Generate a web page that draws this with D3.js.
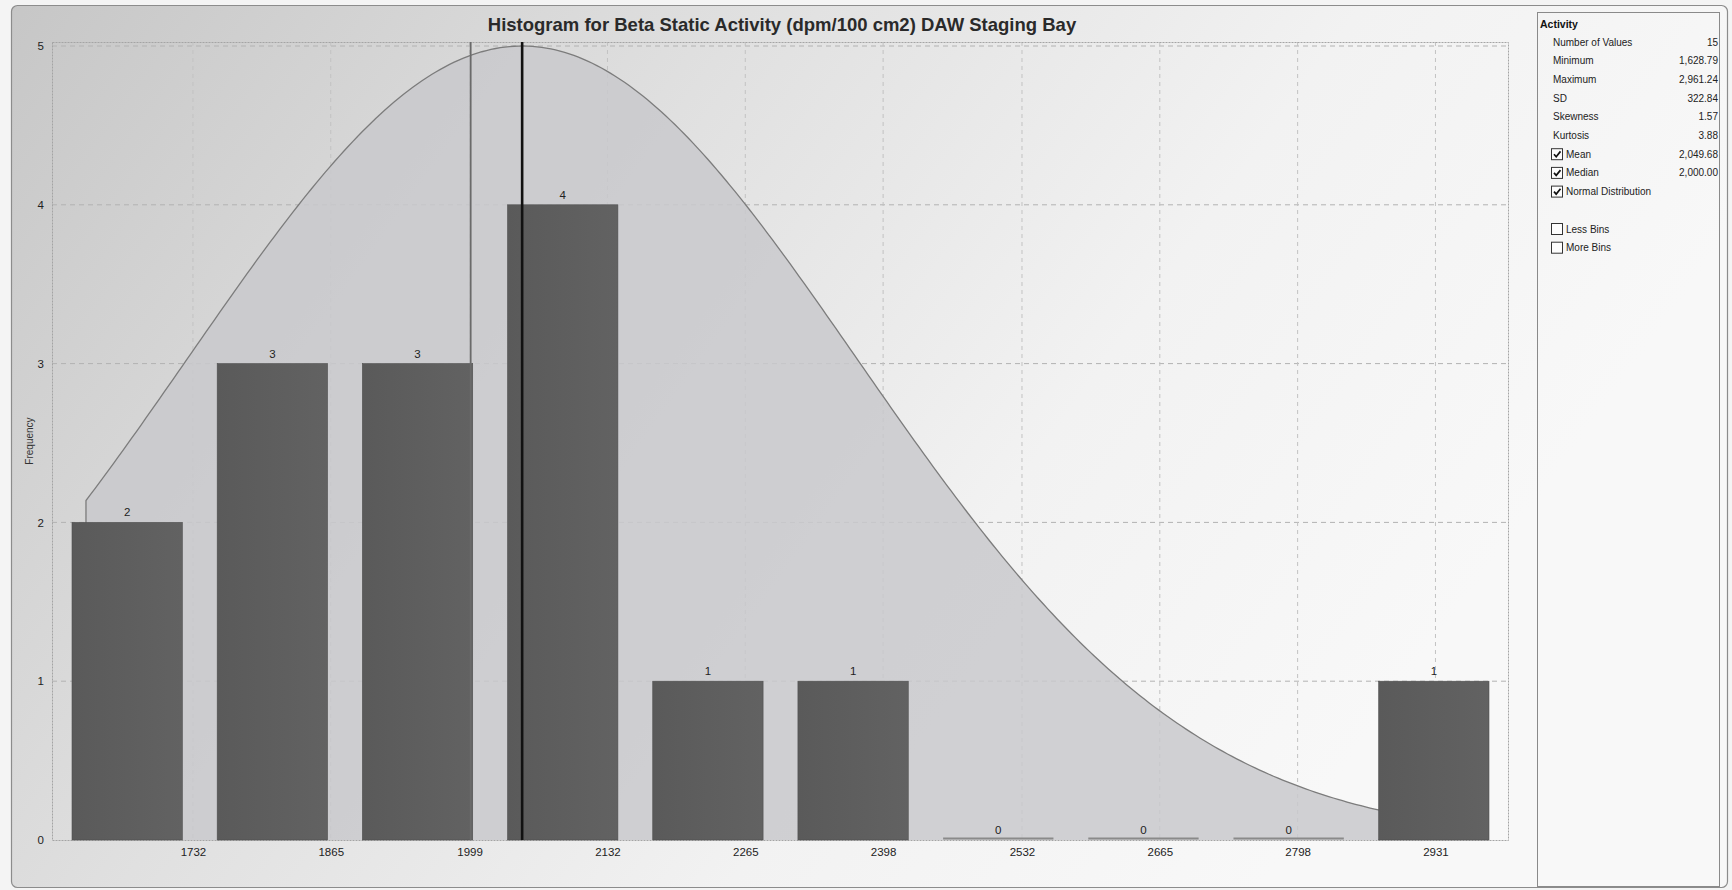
<!DOCTYPE html>
<html>
<head>
<meta charset="utf-8">
<title>Histogram for Beta Static Activity</title>
<script src="https://cdn.jsdelivr.net/npm/d3@7"></script>
<style>
  body { margin: 0; background: #ffffff; }
  svg { display: block; }
</style>
</head>
<body>
<svg id="chart" width="1732" height="890"></svg>
<script>
// ---- data ----
const binLabels = ["1732", "1865", "1999", "2132", "2265", "2398", "2532", "2665", "2798", "2931"];
const binTicks = [1732, 1865, 1999, 2132, 2265, 2398, 2532, 2665, 2798, 2931];
const binCounts = [2, 3, 3, 4, 1, 1, 0, 0, 0, 1];
const yTicks = [0, 1, 2, 3, 4, 5];

const statNames = ["Number of Values", "Minimum", "Maximum", "SD", "Skewness", "Kurtosis"];
const statValues = ["15", "1,628.79", "2,961.24", "322.84", "1.57", "3.88"];
const optionNames = ["Mean", "Median", "Normal Distribution"];
const optionValues = ["2,049.68", "2,000.00", ""];
const optionChecked = [true, true, true];
const binOptionNames = ["Less Bins", "More Bins"];

const minValue = 1628.79;
const maxValue = 2961.24;
const meanValue = 2049.68;
const medianValue = 2000.00;
const sdValue = 322.84;
const curvePeak = 5;             // height of the fitted normal curve at the mean
const valueDomain = [1596, 3001]; // numeric extent of the x axis
const yDomain = [0, 5];

// ---- layout ----
const W = 1732, H = 890;
const plot = { left: 52, right: 1508, top: 42, bottom: 840 };
const narrow = "'Liberation Sans Narrow', 'Liberation Sans', Arial, sans-serif";
const sans = "'Liberation Sans', Arial, sans-serif";

const svg = d3.select("#chart");
const defs = svg.append("defs");

const bg = defs.append("linearGradient")
  .attr("id", "bgGrad")
  .attr("gradientUnits", "userSpaceOnUse")
  .attr("x1", 0).attr("y1", 0).attr("x2", 1250).attr("y2", 900);
bg.append("stop").attr("offset", 0).attr("stop-color", "#c6c6c6");
bg.append("stop").attr("offset", 0.4).attr("stop-color", "#e0e0e0");
bg.append("stop").attr("offset", 0.72).attr("stop-color", "#f2f2f2");
bg.append("stop").attr("offset", 1).attr("stop-color", "#f8f8f8");

const barGrad = defs.append("linearGradient")
  .attr("id", "barGrad").attr("x1", 0).attr("y1", 0).attr("x2", 1).attr("y2", 0);
barGrad.append("stop").attr("offset", 0).attr("stop-color", "#5a5a5a");
barGrad.append("stop").attr("offset", 1).attr("stop-color", "#626262");

// page background and outer frame
svg.append("rect").attr("width", W).attr("height", H).attr("fill", "#f4f4f4");
svg.append("rect")
  .attr("x", 11.5).attr("y", 5.5)
  .attr("width", 1716).attr("height", 882)
  .attr("rx", 6)
  .attr("fill", "url(#bgGrad)")
  .attr("stroke", "#8c8c8c")
  .attr("stroke-width", 1.2);

// ---- scales ----
const x = d3.scaleLinear().domain(valueDomain).range([plot.left, plot.right]);
const y = d3.scaleLinear().domain(yDomain).range([plot.bottom, 46]);
const xBand = d3.scaleBand()
  .domain(d3.range(binCounts.length))
  .range([72, 1489])
  .paddingInner(0.24)
  .paddingOuter(0);

// ---- gridlines ----
const grid = svg.append("g");
grid.selectAll(".hgrid")
  .data(yTicks.filter(t => t > yDomain[0]))
  .join("line")
  .attr("x1", plot.left).attr("x2", plot.right)
  .attr("y1", d => y(d)).attr("y2", d => y(d))
  .attr("stroke", "#b2b2b2").attr("stroke-width", 1)
  .attr("stroke-dasharray", "5,4");
grid.selectAll(".vgrid")
  .data(binTicks)
  .join("line")
  .attr("x1", d => x(d)).attr("x2", d => x(d))
  .attr("y1", plot.top).attr("y2", plot.bottom)
  .attr("stroke", "#c2c2c2").attr("stroke-width", 1)
  .attr("stroke-dasharray", "4,4");

// plot frame (dotted)
svg.append("rect")
  .attr("x", plot.left + 0.5).attr("y", plot.top + 0.5)
  .attr("width", plot.right - plot.left).attr("height", plot.bottom - plot.top)
  .attr("fill", "none")
  .attr("stroke", "#a4a4a4").attr("stroke-width", 1)
  .attr("stroke-dasharray", "2,1");

// ---- fitted normal distribution ----
const curvePts = d3.range(0, 301).map(i => {
  const v = minValue + (maxValue - minValue) * i / 300;
  const z = (v - meanValue) / sdValue;
  return [v, curvePeak * Math.exp(-0.5 * z * z)];
});
svg.append("path")
  .datum(curvePts)
  .attr("fill", "#c9c9cd")
  .attr("fill-opacity", 0.85)
  .attr("d", d3.area().x(d => x(d[0])).y0(y(0)).y1(d => y(d[1])));
svg.append("path")
  .datum([[minValue, 0]].concat(curvePts))
  .attr("fill", "none")
  .attr("stroke", "#7c7c7c")
  .attr("stroke-width", 1.3)
  .attr("d", d3.line().x(d => x(d[0])).y(d => y(d[1])));

// ---- bars ----
const bars = svg.append("g");
bars.selectAll("rect")
  .data(binCounts.map((c, i) => ({ c, i })).filter(d => d.c > 0))
  .join("rect")
  .attr("x", d => xBand(d.i))
  .attr("width", xBand.bandwidth())
  .attr("y", d => y(d.c))
  .attr("height", d => y(0) - y(d.c))
  .attr("fill", "url(#barGrad)")
  .attr("stroke", "#4f4f4f")
  .attr("stroke-width", 0.6);
bars.selectAll("line")
  .data(binCounts.map((c, i) => ({ c, i })).filter(d => d.c === 0))
  .join("line")
  .attr("x1", d => xBand(d.i)).attr("x2", d => xBand(d.i) + xBand.bandwidth())
  .attr("y1", d => y(d.c) - 1.5).attr("y2", d => y(d.c) - 1.5)
  .attr("stroke", "#8a8a8a").attr("stroke-width", 2);
bars.selectAll("text")
  .data(binCounts)
  .join("text")
  .attr("x", (d, i) => xBand(i) + xBand.bandwidth() / 2)
  .attr("y", d => y(d) - 6)
  .attr("text-anchor", "middle")
  .attr("font-family", narrow)
  .attr("font-size", 11.5)
  .attr("fill", "#222")
  .text(d => d);

// ---- median and mean markers ----
svg.append("line")
  .attr("x1", x(medianValue)).attr("x2", x(medianValue))
  .attr("y1", y(0)).attr("y2", plot.top)
  .attr("stroke", "#6a6a6a").attr("stroke-width", 1.8);
svg.append("line")
  .attr("x1", x(meanValue)).attr("x2", x(meanValue))
  .attr("y1", y(0)).attr("y2", plot.top)
  .attr("stroke", "#111").attr("stroke-width", 2.6);

// ---- axes ----
const xAxis = svg.append("g")
  .attr("transform", `translate(0,${plot.bottom})`)
  .call(d3.axisBottom(x).tickValues(binTicks).tickFormat((d, i) => binLabels[i]).tickSize(0).tickPadding(8));
const yAxis = svg.append("g")
  .attr("transform", `translate(${plot.left},0)`)
  .call(d3.axisLeft(y).tickValues(yTicks).tickFormat(d3.format("d")).tickSize(0).tickPadding(8));
[xAxis, yAxis].forEach(a => {
  a.select(".domain").remove();
  a.selectAll("text")
    .attr("font-family", narrow)
    .attr("font-size", 11.5)
    .attr("fill", "#222");
});

svg.append("text")
  .attr("transform", `translate(33,${(plot.top + plot.bottom) / 2}) rotate(-90)`)
  .attr("text-anchor", "middle")
  .attr("font-family", sans)
  .attr("font-size", 10)
  .attr("fill", "#333")
  .text("Frequency");

// ---- title ----
svg.append("text")
  .attr("x", (plot.left + plot.right) / 2 + 2)
  .attr("y", 31)
  .attr("text-anchor", "middle")
  .attr("font-family", sans)
  .attr("font-weight", "bold")
  .attr("font-size", 18.5)
  .attr("fill", "#2a2a2a")
  .text("Histogram for Beta Static Activity (dpm/100 cm2) DAW Staging Bay");

// ---- statistics panel ----
const panel = svg.append("g");
panel.append("rect")
  .attr("x", 1537.5).attr("y", 12.5)
  .attr("width", 182).attr("height", 874)
  .attr("fill", "none")
  .attr("stroke", "#8a8a8a").attr("stroke-width", 1);
panel.append("text")
  .attr("x", 1540).attr("y", 28)
  .attr("font-family", sans).attr("font-weight", "bold").attr("font-size", 10.5)
  .attr("fill", "#111")
  .text("Activity");

const rowY = i => 45.5 + i * 18.7;
const labelX = 1553, valueX = 1718, boxX = 1551, boxTextX = 1566;

panel.selectAll(".statName").data(statNames).join("text")
  .attr("x", labelX).attr("y", (d, i) => rowY(i))
  .attr("font-family", sans).attr("font-size", 10).attr("fill", "#222")
  .text(d => d);
panel.selectAll(".statVal").data(statValues).join("text")
  .attr("x", valueX).attr("y", (d, i) => rowY(i))
  .attr("text-anchor", "end")
  .attr("font-family", sans).attr("font-size", 10).attr("fill", "#222")
  .text(d => d);

function checkRow(g, name, value, checked, row) {
  const cy = rowY(row) - 3.5;
  g.append("rect")
    .attr("x", boxX + 0.5).attr("y", cy - 5.5)
    .attr("width", 11).attr("height", 11)
    .attr("fill", "#fdfdfd").attr("stroke", "#333").attr("stroke-width", 1);
  if (checked) {
    g.append("path")
      .attr("d", `M${boxX + 3},${cy} L${boxX + 5.2},${cy + 2.5} L${boxX + 9.5},${cy - 2.8}`)
      .attr("fill", "none").attr("stroke", "#111").attr("stroke-width", 1.7);
  }
  g.append("text")
    .attr("x", boxTextX).attr("y", rowY(row))
    .attr("font-family", sans).attr("font-size", 10).attr("fill", "#222")
    .text(name);
  if (value) {
    g.append("text")
      .attr("x", valueX).attr("y", rowY(row))
      .attr("text-anchor", "end")
      .attr("font-family", sans).attr("font-size", 10).attr("fill", "#222")
      .text(value);
  }
}
optionNames.forEach((n, i) => checkRow(panel, n, optionValues[i], optionChecked[i], statNames.length + i));
binOptionNames.forEach((n, i) => checkRow(panel, n, "", false, statNames.length + optionNames.length + 1 + i));
</script>
</body>
</html>
